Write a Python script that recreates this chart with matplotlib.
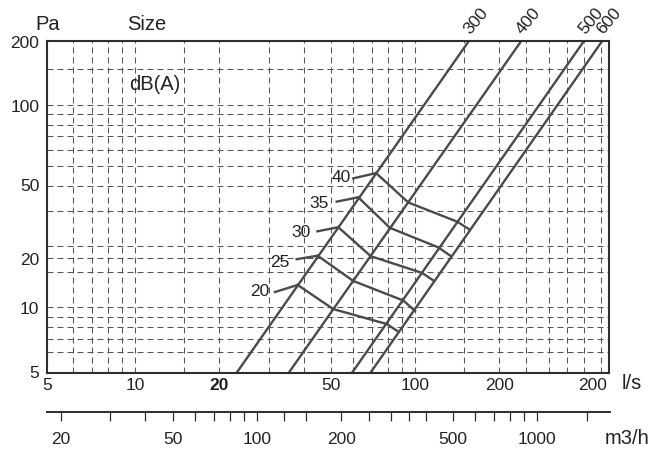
import matplotlib
matplotlib.use("Agg")
import matplotlib.pyplot as plt
from matplotlib.ticker import FixedLocator, FixedFormatter, NullLocator, NullFormatter

plt.rcParams['font.family'] = ['Liberation Sans', 'DejaVu Sans']
plt.rcParams['lines.scale_dashes'] = False

# ---- data ----
# x axis: flow l/s, y axis: pressure Pa
x_grid = [6, 7, 8, 9, 10, 15, 20, 30, 40, 50, 60, 70, 80, 90, 100, 150, 200,
          250, 300, 350, 400, 460]
y_grid = [6, 7, 8, 9, 10, 15, 17.5, 20, 30, 40, 50, 60, 70, 80, 90, 100, 150]
x_tick_pos = [4.87, 10, 20, 50, 100, 200, 430]
x_tick_labels = ['5', '10', '20', '50', '100', '200', '200']
y_tick_pos = [4.86, 10, 17.5, 40.8, 100, 208]
y_tick_labels = ['5', '10', '20', '50', '100', '200']

m3h_ticks = [20, 30, 40, 50, 60, 70, 80, 90, 100, 125, 150, 200, 250, 300,
             350, 400, 500, 600, 700, 800, 900, 1000, 1500]
m3h_labeled = [20, 50, 100, 200, 500, 1000]

# size lines (where each meets the bottom / top of the frame)
size_labels = ['300', '400', '500', '600']
size_q_low = [23.0, 35.3, 59.4, 69.1]
size_q_high = [156, 240, 402, 467]
size_p = [4.72, 208]

# dB(A) curves
db_labels = ['20', '25', '30', '35', '40']
db_q = [[38.1, 51.1, 79.3, 87.2],
        [44.9, 60.2, 90.9, 100],
        [53.2, 69.5, 106, 117],
        [62.7, 81.4, 121, 134.5],
        [72.6, 94.6, 141.6, 157]]
db_p = [[12.9, 9.8, 8.27, 7.58],
        [18.0, 13.5, 10.8, 9.6],
        [24.9, 17.9, 14.8, 13.5],
        [35.0, 24.7, 19.8, 17.9],
        [46.1, 33.0, 26.5, 24.2]]
leader_q = [31.6, 37.8, 44.8, 52.5, 60.2]
leader_p = [11.9, 17.3, 23.75, 33.3, 43.4]
label_q = [27.8, 33.0, 39.2, 45.4, 54.7]
label_p = [12.1, 16.8, 23.6, 32.8, 44.4]

W, H = 653, 452
fig = plt.figure(figsize=(W / 100, H / 100), dpi=100)
ax = fig.add_axes([47 / W, 1 - 374.3 / H, 562 / W, 332.6 / H])
ax.set_xscale('log')
ax.set_yscale('log')
ax.set_xlim(4.85, 493)
ax.set_ylim(4.72, 208)

line_col = '#4a4a4a'
frame_col = '#2e2e2e'
grid_col = '#555555'

ax.xaxis.set_major_locator(FixedLocator(x_tick_pos))
ax.xaxis.set_major_formatter(FixedFormatter(x_tick_labels))
ax.yaxis.set_major_locator(FixedLocator(y_tick_pos))
ax.yaxis.set_major_formatter(FixedFormatter(y_tick_labels))
ax.xaxis.set_minor_locator(FixedLocator(x_grid))
ax.yaxis.set_minor_locator(FixedLocator(y_grid))
ax.xaxis.set_minor_formatter(NullFormatter())
ax.yaxis.set_minor_formatter(NullFormatter())
ax.xaxis.remove_overlapping_locs = False
ax.yaxis.remove_overlapping_locs = False
ax.grid(False, which='major')
ax.grid(True, which='minor', color=grid_col, lw=0.75, ls=(0, (4.3, 2.9)))
ax.tick_params(which='both', length=0)
ax.tick_params(axis='x', which='major', pad=2.8, labelsize=12.5, colors='#222222')
ax.tick_params(axis='y', which='major', pad=5.5, labelsize=12.5, colors='#222222')
for lab in ax.get_xticklabels():
    if lab.get_text() == '20':
        lab.set_fontweight('bold')
for s in ax.spines.values():
    s.set_color(frame_col)
    s.set_linewidth(1.5)

# size lines
for lab, ql, qh in zip(size_labels, size_q_low, size_q_high):
    ax.plot([ql, qh], size_p, color=line_col, lw=1.7, solid_capstyle='butt')
    ax.annotate(lab, xy=(qh, size_p[1]), xytext=(2.5, 3.5), textcoords='offset points',
                rotation=50, rotation_mode='anchor', ha='left', va='bottom',
                fontsize=12.5, color='#222222', annotation_clip=False)

# dB(A) curves
for lab, qs, ps, lq, lp, tq, tp in zip(db_labels, db_q, db_p, leader_q, leader_p,
                                       label_q, label_p):
    ax.plot(qs, ps, color=line_col, lw=1.7, solid_joinstyle='miter')
    ax.plot([lq, qs[0]], [lp, ps[0]], color=line_col, lw=1.7)
    ax.text(tq, tp, lab, ha='center', va='center', fontsize=12.5, color='#222222')

# texts
fig.text(48 / W, 1 - 24 / H, 'Pa', ha='center', va='center', fontsize=14.5, color='#222222')
fig.text(146.5 / W, 1 - 24 / H, 'Size', ha='center', va='center', fontsize=14.5, color='#222222')
fig.text(154.5 / W, 1 - 84 / H, 'dB(A)', ha='center', va='center', fontsize=14.5, color='#222222')
fig.text(631.7 / W, 1 - 383.5 / H, 'l/s', ha='center', va='center', fontsize=14.5, color='#222222')
fig.text(627.5 / W, 1 - 438.3 / H, 'm3/h', ha='center', va='center', fontsize=14.5, color='#222222')

# secondary m3/h axis
ax2 = fig.add_axes([47 / W, 1 - 413.3 / H, 563 / W, 0.01])
ax2.set_xscale('log')
ax2.set_xlim(17.83, 1817)
ax2.patch.set_visible(False)
for k in ['top', 'left', 'right']:
    ax2.spines[k].set_visible(False)
ax2.spines['bottom'].set_color(frame_col)
ax2.spines['bottom'].set_linewidth(1.4)
ax2.set_yticks([])
ax2.xaxis.set_major_locator(FixedLocator(m3h_ticks))
ax2.xaxis.set_major_formatter(FixedFormatter([str(v) if v in m3h_labeled else '' for v in m3h_ticks]))
ax2.xaxis.set_minor_locator(NullLocator())
ax2.xaxis.set_minor_formatter(NullFormatter())
ax2.tick_params(axis='x', direction='out', length=6.3, width=0.9, color=frame_col,
                pad=7, labelsize=12.5, labelcolor='#222222')

fig.savefig('out.png', dpi=100)
